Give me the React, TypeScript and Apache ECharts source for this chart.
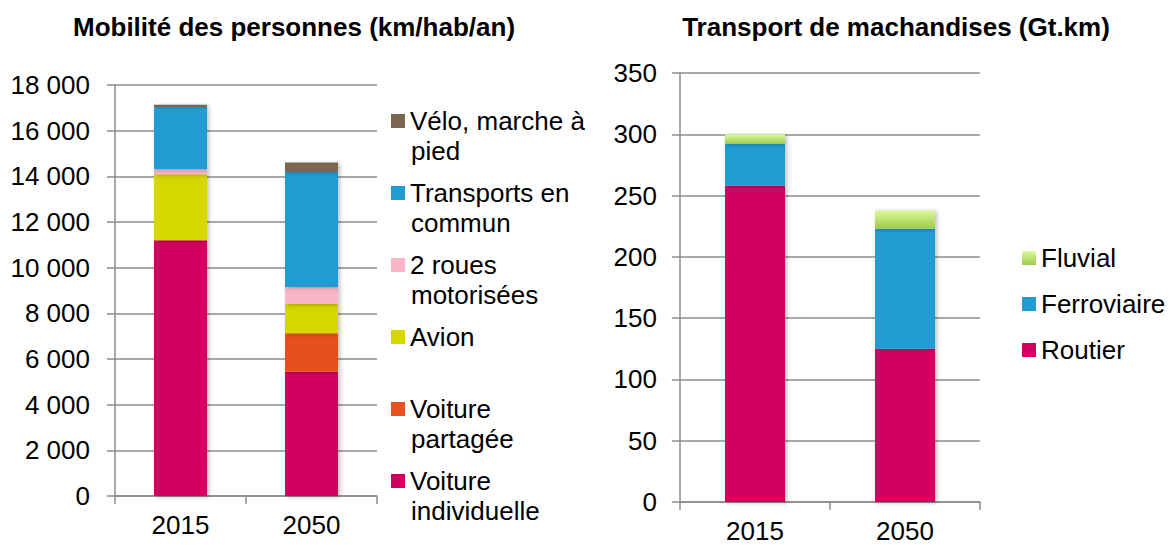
import React, { useEffect, useRef } from 'react';
import * as echarts from 'echarts';

const years = ['2015', '2050'];

// Mobilité des personnes (km/hab/an)
const voitureIndividuelle = [11200, 5440];
const voiturePartagee = [0, 1690];
const avion = [2890, 1280];
const deuxRoues = [220, 745];
const transportsCommun = [2730, 5030];
const veloMarche = [90, 425];

// Transport de marchandises (Gt.km)
const routier = [258, 125];
const ferroviaire = [34, 98];
const fluvial = [8, 15];

const titleLeft = 'Mobilité des personnes (km/hab/an)';
const titleRight = 'Transport de machandises (Gt.km)';

const personNames = ['Vélo, marche à pied', 'Transports en commun', '2 roues motorisées', 'Avion', 'Voiture partagée', 'Voiture individuelle'];
const personLines = [['Vélo, marche à', 'pied'], ['Transports en', 'commun'], ['2 roues', 'motorisées'], ['Avion'], ['Voiture', 'partagée'], ['Voiture', 'individuelle']];
const freightNames = ['Fluvial', 'Ferroviaire', 'Routier'];

const FONT = '"Liberation Sans", Arial, sans-serif';
const FS = 26;
const GRID_COLOR = '#8c8c8c';

function fmtSpace(v: number) {
  return String(v).replace(/\B(?=(\d{3})+(?!\d))/g, ' ');
}

export default function App() {
  const ref = useRef<HTMLDivElement>(null);
  useEffect(() => {
    const chart = echarts.init(ref.current!, null, { renderer: 'svg' });
    const shadow = { shadowColor: 'rgba(0,0,0,0.25)', shadowBlur: 4, shadowOffsetX: 2, shadowOffsetY: 1 };
    const axisCommonY = {
      type: 'value',
      min: 0,
      axisLine: { show: true, lineStyle: { color: GRID_COLOR, width: 1.5 } },
      axisTick: { show: true, length: 8, lineStyle: { color: GRID_COLOR, width: 1.5 } },
      splitLine: { show: true, lineStyle: { color: GRID_COLOR, width: 1.5 } },
    };
    const axisCommonX = {
      type: 'category',
      data: years,
      axisLine: { show: true, lineStyle: { color: GRID_COLOR, width: 1.5 } },
      axisTick: { show: true, length: 8, alignWithLabel: false, lineStyle: { color: GRID_COLOR, width: 1.5 } },
    };
    const personColors: Record<string, string> = {
      'Voiture individuelle': '#d4005f',
      'Voiture partagée': '#e5511f',
      'Avion': '#d6d600',
      '2 roues motorisées': '#f8b6c8',
      'Transports en commun': '#219bd2',
      'Vélo, marche à pied': '#7b6651',
    };
    const personData: Record<string, number[]> = {
      'Voiture individuelle': voitureIndividuelle,
      'Voiture partagée': voiturePartagee,
      'Avion': avion,
      '2 roues motorisées': deuxRoues,
      'Transports en commun': transportsCommun,
      'Vélo, marche à pied': veloMarche,
    };
    const fluvialGradient = new echarts.graphic.LinearGradient(0, 0, 0, 1, [
      { offset: 0, color: '#dcfa9e' },
      { offset: 1, color: '#9ccb4a' },
    ]);
    const freightColors: Record<string, any> = {
      'Routier': '#d4005f',
      'Ferroviaire': '#219bd2',
      'Fluvial': fluvialGradient,
    };
    const freightData: Record<string, number[]> = {
      'Routier': routier,
      'Ferroviaire': ferroviaire,
      'Fluvial': fluvial,
    };

    const stackOrderPersons = ['Voiture individuelle', 'Voiture partagée', 'Avion', '2 roues motorisées', 'Transports en commun', 'Vélo, marche à pied'];
    const stackOrderFreight = ['Routier', 'Ferroviaire', 'Fluvial'];

    const series: any[] = [];
    stackOrderPersons.forEach((n) => {
      series.push({
        name: n, type: 'bar', stack: 'p', xAxisIndex: 0, yAxisIndex: 0,
        barWidth: 53, data: personData[n],
        itemStyle: { color: personColors[n], ...shadow },
      });
    });
    stackOrderFreight.forEach((n) => {
      series.push({
        name: n, type: 'bar', stack: 'f', xAxisIndex: 1, yAxisIndex: 1,
        barWidth: 60, data: freightData[n],
        itemStyle: { color: freightColors[n], ...shadow },
      });
    });

    const legends: any[] = [];
    const graphics: any[] = [];
    personNames.forEach((n, i) => {
      const center = 121 + 72 * i;
      legends.push({
        data: [n], left: 391, top: center - 15, padding: 0,
        itemWidth: 14, itemHeight: 14, icon: 'rect', itemGap: 7,
        itemStyle: { shadowBlur: 0, shadowOffsetX: 0, shadowOffsetY: 0 },
        formatter: () => personLines[i][0],
        textStyle: { fontSize: FS, lineHeight: 30, color: '#000', fontFamily: FONT },
        selectedMode: false,
      });
      if (personLines[i][1]) {
        graphics.push({
          type: 'text', x: 411, y: center + 30,
          style: { text: personLines[i][1], fontSize: FS, fontFamily: FONT, fill: '#000', textVerticalAlign: 'middle' },
        });
      }
    });
    freightNames.forEach((n, i) => {
      const center = 258 + 46 * i;
      legends.push({
        data: [n], left: 1022, top: center - 15, padding: 0,
        itemWidth: 14, itemHeight: 14, icon: 'rect',
        itemStyle: { shadowBlur: 0, shadowOffsetX: 0, shadowOffsetY: 0 },
        textStyle: { fontSize: FS, lineHeight: 30, color: '#000', fontFamily: FONT },
        selectedMode: false,
      });
    });
    graphics.push({
      type: 'text', x: 294, y: 27,
      style: { text: titleLeft, fontSize: FS, fontWeight: 'bold', fontFamily: FONT, fill: '#000', textAlign: 'center', textVerticalAlign: 'middle' },
    });
    graphics.push({
      type: 'text', x: 896, y: 27,
      style: { text: titleRight, fontSize: FS, fontWeight: 'bold', fontFamily: FONT, fill: '#000', textAlign: 'center', textVerticalAlign: 'middle' },
    });

    const option: any = {
      animation: false,
      backgroundColor: '#ffffff',
      textStyle: { fontFamily: FONT },
      grid: [
        { left: 115, top: 85, width: 262, height: 411, containLabel: false },
        { left: 680, top: 73, width: 300, height: 429, containLabel: false },
      ],
      xAxis: [
        { ...axisCommonX, gridIndex: 0, axisLabel: { margin: 16, fontSize: FS, color: '#000', fontFamily: FONT } },
        { ...axisCommonX, gridIndex: 1, axisLabel: { margin: 16, fontSize: FS, color: '#000', fontFamily: FONT } },
      ],
      yAxis: [
        { ...axisCommonY, gridIndex: 0, max: 18000, interval: 2000,
          axisLabel: { margin: 25, fontSize: FS, color: '#000', fontFamily: FONT, formatter: (v: number) => fmtSpace(v) } },
        { ...axisCommonY, gridIndex: 1, max: 350, interval: 50,
          axisLabel: { margin: 23, fontSize: FS, color: '#000', fontFamily: FONT } },
      ],
      legend: legends,
      graphic: graphics,
      series,
    };
    chart.setOption(option);
    return () => chart.dispose();
  }, []);
  return <div ref={ref} style={{ position: 'fixed', left: 0, top: 0, width: 1172, height: 545, background: '#fff' }} />;
}
